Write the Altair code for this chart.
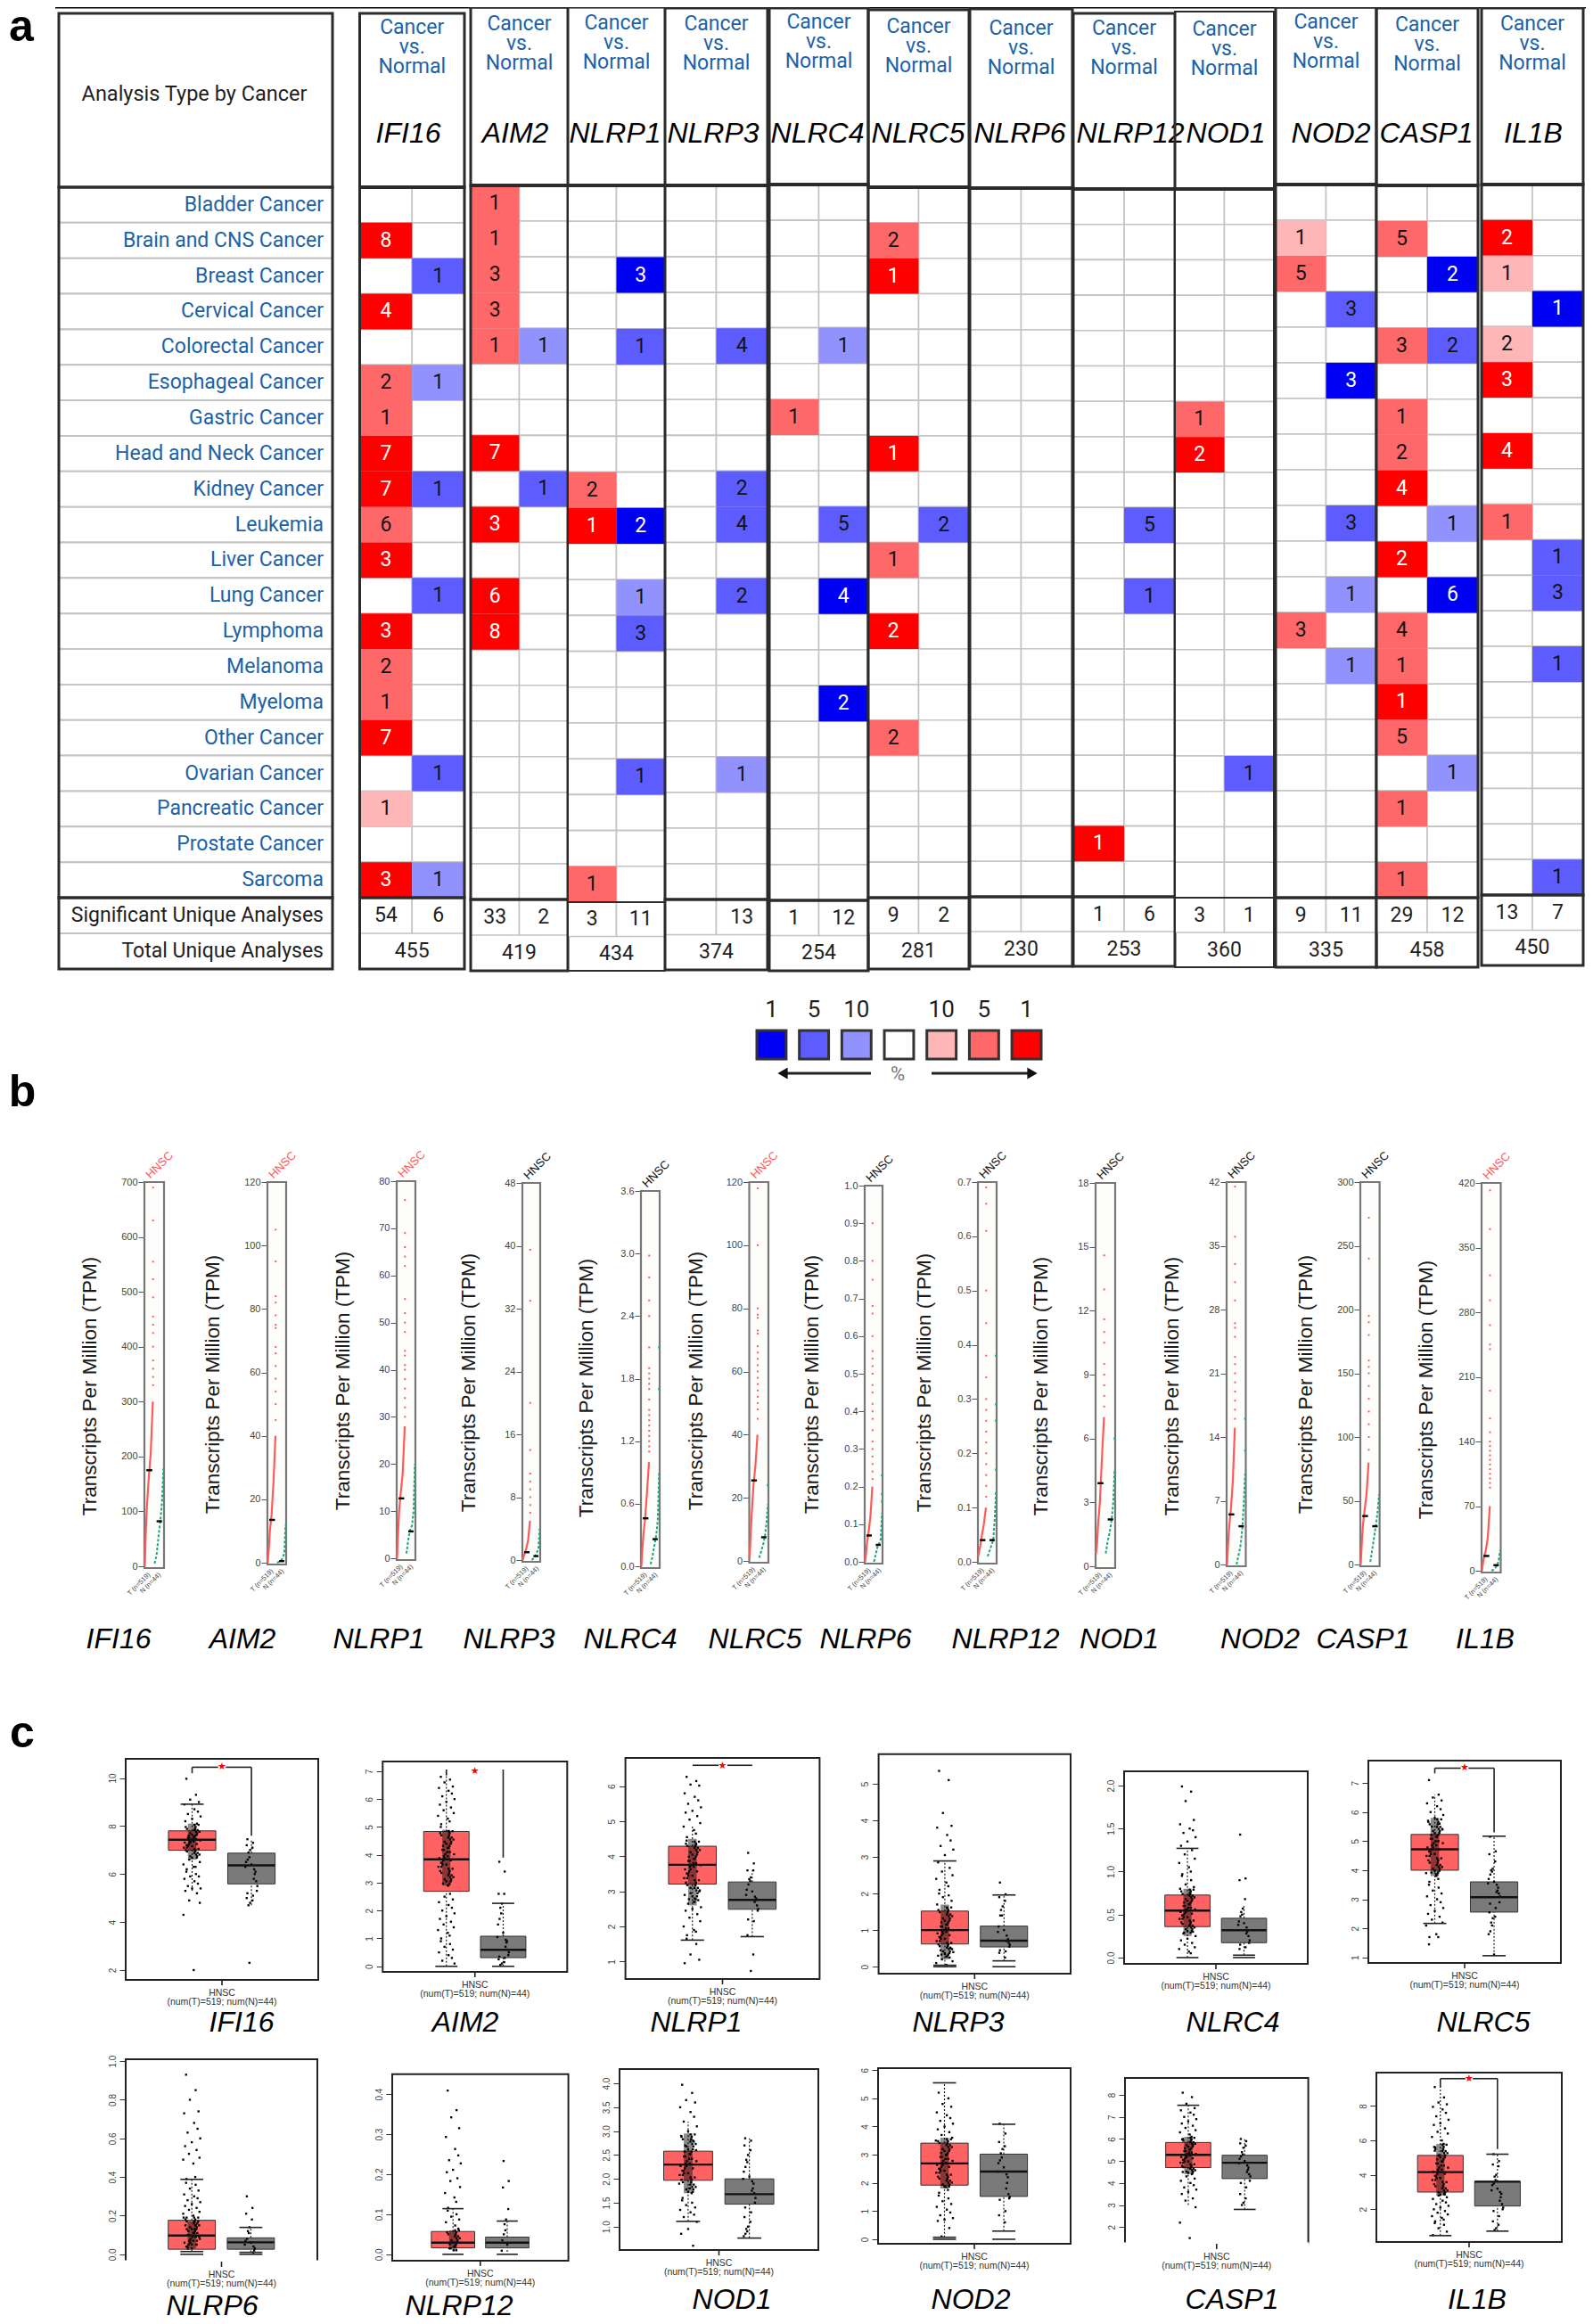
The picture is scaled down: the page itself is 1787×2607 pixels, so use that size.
import altair as alt
import pandas as pd

GENES = ["IFI16", "AIM2", "NLRP1", "NLRP3", "NLRC4", "NLRC5", "NLRP6", "NLRP12", "NOD1", "NOD2", "CASP1", "IL1B"]
CANCERS = ["Bladder Cancer", "Brain and CNS Cancer", "Breast Cancer", "Cervical Cancer", "Colorectal Cancer",
           "Esophageal Cancer", "Gastric Cancer", "Head and Neck Cancer", "Kidney Cancer", "Leukemia", "Liver Cancer",
           "Lung Cancer", "Lymphoma", "Melanoma", "Myeloma", "Other Cancer", "Ovarian Cancer", "Pancreatic Cancer",
           "Prostate Cancer", "Sarcoma"]

# (cancer index, number of analyses, top-percent level)
UP = {
    "IFI16": [(1, 8, 1), (3, 4, 1), (5, 2, 5), (6, 1, 5), (7, 7, 1), (8, 7, 1), (9, 6, 5), (10, 3, 1), (12, 3, 1), (13, 2, 5), (14, 1, 5), (15, 7, 1), (17, 1, 10), (19, 3, 1)],
    "AIM2": [(0, 1, 5), (1, 1, 5), (2, 3, 5), (3, 3, 5), (4, 1, 5), (7, 7, 1), (9, 3, 1), (11, 6, 1), (12, 8, 1)],
    "NLRP1": [(8, 2, 5), (9, 1, 1), (19, 1, 5)],
    "NLRP3": [],
    "NLRC4": [(6, 1, 5)],
    "NLRC5": [(1, 2, 5), (2, 1, 1), (7, 1, 1), (10, 1, 5), (12, 2, 1), (15, 2, 5)],
    "NLRP6": [],
    "NLRP12": [(18, 1, 1)],
    "NOD1": [(6, 1, 5), (7, 2, 1)],
    "NOD2": [(1, 1, 10), (2, 5, 5), (12, 3, 5)],
    "CASP1": [(1, 5, 5), (4, 3, 5), (6, 1, 5), (7, 2, 5), (8, 4, 1), (10, 2, 1), (12, 4, 5), (13, 1, 5), (14, 1, 1), (15, 5, 5), (17, 1, 5), (19, 1, 5)],
    "IL1B": [(1, 2, 1), (2, 1, 10), (4, 2, 10), (5, 3, 1), (7, 4, 1), (9, 1, 5)],
}
DOWN = {
    "IFI16": [(2, 1, 5), (5, 1, 10), (8, 1, 5), (11, 1, 5), (16, 1, 5), (19, 1, 10)],
    "AIM2": [(4, 1, 10), (8, 1, 5)],
    "NLRP1": [(2, 3, 1), (4, 1, 5), (9, 2, 1), (11, 1, 10), (12, 3, 5), (16, 1, 5)],
    "NLRP3": [(4, 4, 5), (8, 2, 5), (9, 4, 5), (11, 2, 5), (16, 1, 10)],
    "NLRC4": [(4, 1, 10), (9, 5, 5), (11, 4, 1), (14, 2, 1)],
    "NLRC5": [(9, 2, 5)],
    "NLRP6": [],
    "NLRP12": [(9, 5, 5), (11, 1, 5)],
    "NOD1": [(16, 1, 5)],
    "NOD2": [(3, 3, 5), (5, 3, 1), (9, 3, 5), (11, 1, 10), (13, 1, 10)],
    "CASP1": [(2, 2, 1), (4, 2, 5), (9, 1, 10), (11, 6, 1), (16, 1, 10)],
    "IL1B": [(3, 1, 1), (10, 1, 5), (11, 3, 5), (13, 1, 5), (19, 1, 5)],
}
SIG_UP = ["54", "33", "3", "", "1", "9", "", "1", "3", "9", "29", "13"]
SIG_DOWN = ["6", "2", "11", "13", "12", "2", "", "6", "1", "11", "12", "7"]
TOTALS = ["455", "419", "434", "374", "254", "281", "230", "253", "360", "335", "458", "450"]
LEGEND_KEYS = ["b1", "b5", "b10", "w", "r10", "r5", "r1"]
LEGEND_TEXT = ["1", "5", "10", "", "10", "5", "1"]
UP_COL = {1: "#ff0000", 5: "#ff6868", 10: "#ffb6b6"}
DOWN_COL = {1: "#0000f5", 5: "#5c5cff", 10: "#9292ff"}
LEGEND_COL = ["#0000f5", "#5c5cff", "#9292ff", "#ffffff", "#ffb6b6", "#ff6868", "#ff0000"]

# ---- layout of panel a (page pixels): x0, x1, header top, rows top, rows bottom, table bottom, first header line, gene label x
A_LAYOUT = {
    "IFI16": (403.5, 521, 15, 210, 1007, 1087, 31, 458),
    "AIM2": (528, 637, 8, 208, 1009, 1089, 27, 578),
    "NLRP1": (637, 746, 8, 208, 1012, 1089, 26, 690),
    "NLRP3": (746, 861, 9, 208, 1009, 1088, 27, 800),
    "NLRC4": (863, 974, 9, 207, 1010, 1089, 25, 917),
    "NLRC5": (974, 1087, 11, 210, 1007, 1087, 30, 1030),
    "NLRP6": (1088, 1203, 10, 211, 1006, 1084, 32, 1144),
    "NLRP12": (1204, 1318, 15, 212, 1006, 1084, 32, 1268),
    "NOD1": (1318, 1429, 13, 212, 1007, 1085, 33, 1375),
    "NOD2": (1431, 1544, 8, 207, 1007, 1085, 25, 1493),
    "CASP1": (1544, 1658, 9, 208, 1007, 1085, 28, 1600),
    "IL1B": (1662, 1776, 9, 207, 1004, 1083, 27, 1720),
}

# ---- panel b: strip charts. ymax and ticks, medians, curve values read at fixed column positions, sparse upper values
T_COLS = [0.02, 0.07, 0.13, 0.22, 0.32, 0.43]
N_COLS = [0.52, 0.62, 0.72, 0.82, 0.9, 0.97]
B = {
    "IFI16": dict(box=(162, 184, 1326, 1759), y0=1757, ymax=700, ticks=[0, 100, 200, 300, 400, 500, 600, 700], red=True, lx=101, ly=1555, gx=133,
                  T=[0, 60, 110, 160, 205, 300], tail=[330, 345, 360, 375, 400, 425, 440, 455, 490, 523, 555, 630, 690],
                  N=[5, 20, 55, 85, 120, 178], ntail=[], med=(175, 82)),
    "AIM2": dict(box=(300, 321, 1326, 1755), y0=1753, ymax=120, ticks=[0, 20, 40, 60, 80, 100, 120], red=True, lx=239, ly=1553, gx=272,
                 T=[0, 4, 10, 15, 25, 40], tail=[45, 50, 54, 58, 62, 66, 68, 74, 75, 78, 82, 84, 95, 105],
                 N=[0, 0.3, 0.7, 1.5, 3, 12], ntail=[], med=(13.5, 0.5)),
    "NLRP1": dict(box=(445, 466, 1325, 1750), y0=1748, ymax=80, ticks=[0, 10, 20, 30, 40, 50, 60, 70, 80], red=True, lx=385, ly=1549, gx=425,
                  T=[0, 5, 10, 14, 18, 28], tail=[30, 32, 34, 36, 38, 40, 41, 43, 44, 48, 50, 52, 55, 62, 64, 66, 69, 76],
                  N=[1, 4, 6, 7, 10, 20], ntail=[], med=(12.7, 5.7)),
    "NLRP3": dict(box=(586, 606, 1327, 1752), y0=1750, ymax=48, ticks=[0, 8, 16, 24, 32, 40, 48], red=False, lx=526, ly=1551, gx=571,
                  T=[0, 0.4, 0.8, 1.5, 2.5, 5], tail=[6, 7, 8, 9, 10, 11, 14, 20, 33, 39.5],
                  N=[0, 0.2, 0.5, 1, 1.5, 4], ntail=[], med=(1, 0.5)),
    "NLRC4": dict(box=(719, 740, 1336, 1759), y0=1757, ymax=3.6, ticks=[0, 0.6, 1.2, 1.8, 2.4, 3, 3.6], red=False, lx=658, ly=1557, gx=707,
                  T=[0, 0.15, 0.3, 0.45, 0.7, 1.0], tail=[1.1, 1.15, 1.2, 1.25, 1.3, 1.35, 1.4, 1.45, 1.5, 1.6, 1.7, 1.75, 1.8, 1.85, 1.9, 2.1, 2.4, 2.55, 2.77, 2.98],
                  N=[0.02, 0.1, 0.2, 0.3, 0.45, 0.9], ntail=[1.7, 2.1], med=(0.46, 0.26)),
    "NLRC5": dict(box=(840.5, 862, 1326, 1753), y0=1751, ymax=120, ticks=[0, 20, 40, 60, 80, 100, 120], red=True, lx=781, ly=1549, gx=847,
                  T=[1, 8, 15, 24, 30, 40], tail=[45, 48, 50, 52, 54, 56, 58, 60, 62, 64, 66, 68, 72, 73, 77, 78, 80, 100, 118],
                  N=[1, 3, 5, 8, 12, 18], ntail=[24], med=(25.5, 7.5)),
    "NLRP6": dict(box=(970, 990, 1330, 1754), y0=1752, ymax=1, ticks=[0, 0.1, 0.2, 0.3, 0.4, 0.5, 0.6, 0.7, 0.8, 0.9, 1], red=False, lx=911, ly=1553, gx=971,
                  T=[0, 0.02, 0.05, 0.08, 0.12, 0.2], tail=[0.22, 0.24, 0.26, 0.28, 0.3, 0.32, 0.35, 0.38, 0.4, 0.42, 0.45, 0.47, 0.5, 0.52, 0.54, 0.56, 0.6, 0.66, 0.68, 0.75, 0.8, 0.9],
                  N=[0, 0.02, 0.04, 0.05, 0.06, 0.13], ntail=[0.16, 0.18, 0.23], med=(0.07, 0.045)),
    "NLRP12": dict(box=(1097, 1118, 1326, 1754), y0=1752, ymax=0.7, ticks=[0, 0.1, 0.2, 0.3, 0.4, 0.5, 0.6, 0.7], red=False, lx=1037, ly=1551, gx=1128,
                   T=[0.01, 0.02, 0.03, 0.05, 0.07, 0.1], tail=[0.12, 0.14, 0.16, 0.18, 0.2, 0.22, 0.24, 0.26, 0.28, 0.3, 0.34, 0.38, 0.44, 0.5, 0.61, 0.66, 0.69],
                   N=[0.01, 0.02, 0.03, 0.04, 0.08, 0.13], ntail=[0.17, 0.26, 0.29, 0.38], med=(0.04, 0.04)),
    "NOD1": dict(box=(1229, 1251, 1327, 1759), y0=1757, ymax=18, ticks=[0, 3, 6, 9, 12, 15, 18], red=False, lx=1168, ly=1555, gx=1255.5,
                 T=[0.6, 1, 2, 3, 5, 7], tail=[7.5, 8, 8.5, 9, 9.5, 10.5, 11, 11.6, 13, 14.6],
                 N=[0.6, 1.2, 1.6, 2.2, 3, 4.5], ntail=[6], med=(3.9, 2.2)),
    "NOD2": dict(box=(1376, 1397.5, 1326, 1757), y0=1755, ymax=42, ticks=[0, 7, 14, 21, 28, 35, 42], red=False, lx=1314.5, ly=1555, gx=1413.5,
                 T=[0, 2, 4, 6, 9, 15], tail=[16, 17, 18, 19, 20, 21, 22, 22.8, 25, 26, 26.5, 29, 31, 33, 36, 41.5],
                 N=[0, 1, 2, 4, 7, 10], ntail=[12.5, 16], med=(5.5, 4.2)),
    "CASP1": dict(box=(1526, 1547.6, 1326, 1757), y0=1755, ymax=300, ticks=[0, 50, 100, 150, 200, 250, 300], red=False, lx=1465, ly=1553, gx=1529,
                  T=[0, 15, 30, 42, 55, 80], tail=[90, 100, 110, 120, 130, 140, 150, 155, 160, 180, 190, 195, 240, 272],
                  N=[2, 12, 22, 32, 42, 55], ntail=[], med=(38, 30)),
    "IL1B": dict(box=(1662, 1683.5, 1327, 1764), y0=1762, ymax=420, ticks=[0, 70, 140, 210, 280, 350, 420], red=True, lx=1600, ly=1559, gx=1666,
                 T=[0, 8, 15, 22, 35, 70], tail=[90, 95, 100, 105, 110, 115, 120, 125, 130, 135, 140, 150, 165, 195, 240, 245, 266, 293, 320, 370, 412],
                 N=[0, 1, 3, 6, 12, 22], ntail=[], med=(16, 6)),
}
B_GENE_Y = 1839

# ---- panel c: box plots. box=frame, dom=value at frame bottom/top, stats=(q1, median, q3)
C = {
    "IFI16": dict(box=(141, 357, 1973, 2221), dom=(1.59, 10.8), ticks=[2, 4, 6, 8, 10], fmt="d", T=(6.99, 7.43, 7.8), N=(5.59, 6.36, 6.87),
                  Tw=(5.3, 8.91), Nw=(4.7, 7.4), Tc=[8.91], Nc=[], br=(10.45, 10.2, 7.6), core=(6.6, 8.1), gx=271, gy=2269,
                  Td=[9.97, 9.3, 9.1, 9.0, 8.9, 8.7, 8.6, 8.5, 8.4, 8.3, 8.2, 8.1, 6.6, 6.5, 6.4, 6.3, 6.3, 6.2, 6.1, 6.0, 5.9, 5.9, 5.8, 5.7, 5.6, 5.5, 5.4, 5.4, 5.3, 5.2, 4.9, 4.8, 4.3, 2.0],
                  Tm=[8.05, 7.96, 7.88, 7.83, 7.76, 7.7, 7.64, 7.6, 7.55, 7.51, 7.46, 7.4, 7.36, 7.31, 7.25, 7.2, 7.16, 7.1, 7.05, 7.0, 6.94, 6.88, 6.81, 6.74, 6.68],
                  Nd=[7.45, 7.3, 7.2, 7.1, 7.0, 6.9, 6.7, 6.6, 6.5, 6.4, 6.3, 6.2, 6.1, 6.0, 5.8, 5.7, 5.5, 5.3, 5.2, 5.1, 5.0, 4.9, 4.8, 4.7, 2.3]),
    "AIM2": dict(box=(429.3, 636.3, 1976, 2212), dom=(-0.2, 7.35), ticks=[0, 1, 2, 3, 4, 5, 6, 7], fmt="d", T=(2.69, 3.84, 4.84), N=(0.31, 0.59, 1.08),
                 Tw=(0, 7.06), Nw=(0, 2.26), Tc=[0], Nc=[0, 2.26], br=None, seg=[(0.345, 0.345, 6.85, 7.06), (0.653, 0.653, 3.9, 7.06)], star=(0.5, 7.0), core=(2.9, 4.9), gx=522, gy=2269,
                 Td=[6.8, 6.7, 6.6, 6.45, 6.4, 6.3, 6.2, 6.1, 6.0, 5.9, 5.8, 5.7, 5.6, 5.5, 5.4, 5.3, 5.2, 5.1, 5.0, 2.6, 2.5, 2.4, 2.3, 2.2, 2.1, 2.0, 1.9, 1.8, 1.7, 1.6, 1.5, 1.4, 1.3, 1.2, 1.1, 1.0, 0.9, 0.8, 0.7, 0.6, 0.5, 0.4, 0.3, 0.2, 0.1],
                 Tm=[4.85, 4.78, 4.7, 4.62, 4.55, 4.47, 4.4, 4.32, 4.25, 4.18, 4.1, 4.02, 3.95, 3.88, 3.8, 3.72, 3.65, 3.57, 3.5, 3.42, 3.35, 3.27, 3.2, 3.12, 3.05, 2.97, 2.9],
                 Nd=[3.75, 3.4, 2.6, 2.6, 2.25, 2.1, 1.9, 1.7, 1.5, 1.2, 1.05, 0.95, 0.9, 0.85, 0.7, 0.6, 0.5, 0.4, 0.35, 0.3, 0.25, 0.15, 0.1, 0.05]),
    "NLRP1": dict(box=(701.6, 919.4, 1972, 2220), dom=(0.5, 6.81), ticks=[1, 2, 3, 4, 5, 6], fmt="d", T=(3.21, 3.76, 4.29), N=(2.49, 2.76, 3.27),
                  Tw=(1.61, 4.9), Nw=(1.71, 3.6), Tc=[1.61], Nc=[1.71], br=None, seg=[(0.346, 0.48, 6.6, 6.6), (0.525, 0.653, 6.6, 6.6)], star=(0.5, 6.58), core=(2.6, 4.5), gx=781, gy=2269,
                  Td=[6.27, 6.15, 6.05, 6.02, 5.8, 5.7, 5.6, 5.5, 5.4, 5.3, 5.25, 5.15, 5.05, 4.95, 4.85, 4.75, 4.65, 4.55, 4.45, 4.35, 3.1, 3.0, 2.9, 2.8, 2.75, 2.65, 2.55, 2.5, 2.45, 2.35, 2.25, 2.15, 2.0, 1.9, 1.85, 1.75, 1.65, 1.5, 1.2, 1.05, 0.95],
                  Tm=[4.42, 4.36, 4.3, 4.24, 4.18, 4.12, 4.05, 3.99, 3.93, 3.87, 3.81, 3.75, 3.7, 3.63, 3.57, 3.51, 3.45, 3.38, 3.32, 3.25, 3.18, 3.1, 3.03, 2.95, 2.86, 2.78, 2.7],
                  Nd=[4.1, 3.8, 3.6, 3.6, 3.4, 3.35, 3.3, 3.2, 3.05, 3.0, 2.9, 2.85, 2.8, 2.75, 2.7, 2.6, 2.5, 2.45, 2.2, 2.15, 1.75, 1.2, 0.73]),
    "NLRP3": dict(box=(985.6, 1201, 1967.7, 2214), dom=(-0.19, 5.81), ticks=[0, 1, 2, 3, 4, 5], fmt="d", T=(0.62, 1.0, 1.52), N=(0.54, 0.71, 1.11),
                  Tw=(0.04, 2.89), Nw=(0.16, 1.96), Tc=[0, 0.04, 2.89], Nc=[0, 0.16, 1.96], br=None, core=(0.2, 1.7), gx=1075, gy=2269,
                  Td=[5.35, 5.1, 4.2, 3.85, 3.8, 3.6, 3.45, 3.3, 3.2, 3.05, 2.85, 2.7, 2.6, 2.5, 2.4, 2.3, 2.2, 2.1, 2.0, 1.95, 1.9, 1.8, 1.7, 1.6, 0.5, 0.45, 0.4, 0.35, 0.3, 0.25, 0.2, 0.15, 0.1, 0.05],
                  Tm=[1.62, 1.55, 1.49, 1.43, 1.38, 1.32, 1.26, 1.21, 1.15, 1.1, 1.05, 1.0, 0.95, 0.91, 0.86, 0.81, 0.76, 0.7, 0.65, 0.61, 0.56, 0.52, 0.48, 0.42, 0.37, 0.33, 0.28],
                  Nd=[2.3, 1.98, 1.9, 1.8, 1.65, 1.55, 1.4, 1.4, 1.1, 1.0, 0.95, 0.85, 0.75, 0.72, 0.7, 0.65, 0.6, 0.55, 0.45, 0.42, 0.38, 0.25]),
    "NLRC4": dict(box=(1261, 1467, 1987, 2203), dom=(-0.073, 2.166), ticks=[0, 0.5, 1, 1.5, 2], fmt=".1f", T=(0.36, 0.547, 0.727), N=(0.173, 0.318, 0.457),
                  Tw=(0.0, 1.27), Nw=(0.028, 0.6), Tc=[0, 1.27], Nc=[0, 0.028], br=None, core=(0.25, 0.8), gx=1383, gy=2269,
                  Td=[1.99, 1.93, 1.82, 1.6, 1.55, 1.5, 1.48, 1.45, 1.4, 1.35, 1.3, 1.25, 1.2, 1.15, 1.1, 1.05, 1.0, 0.97, 0.95, 0.9, 0.85, 0.82, 0.8, 0.75, 0.3, 0.28, 0.25, 0.22, 0.2, 0.17, 0.15, 0.12, 0.1, 0.07, 0.05],
                  Tm=[0.79, 0.77, 0.74, 0.72, 0.7, 0.68, 0.66, 0.64, 0.62, 0.6, 0.58, 0.56, 0.55, 0.53, 0.51, 0.49, 0.47, 0.45, 0.43, 0.41, 0.39, 0.37, 0.35, 0.33, 0.31, 0.29],
                  Nd=[1.43, 0.92, 0.9, 0.68, 0.57, 0.53, 0.5, 0.48, 0.42, 0.4, 0.38, 0.35, 0.32, 0.3, 0.28, 0.25, 0.2, 0.17, 0.15, 0.12, 0.1]),
    "NLRC5": dict(box=(1535, 1751, 1975, 2202), dom=(0.81, 7.77), ticks=[1, 2, 3, 4, 5, 6, 7], fmt="d", T=(4.0, 4.72, 5.23), N=(2.56, 3.07, 3.6),
                  Tw=(2.17, 6.6), Nw=(1.06, 5.17), Tc=[2.17], Nc=[1.06, 5.17], br=(7.51, 7.33, 5.3), core=(3.8, 5.8), gx=1664, gy=2269,
                  Td=[7.1, 6.6, 6.5, 6.4, 6.3, 6.2, 6.1, 6.0, 5.9, 5.8, 5.7, 5.6, 5.5, 5.4, 3.9, 3.8, 3.7, 3.6, 3.5, 3.4, 3.3, 3.2, 3.1, 3.0, 2.9, 2.8, 2.7, 2.6, 2.5, 2.4, 2.3, 2.2, 2.1, 1.8, 1.7, 1.7, 1.45],
                  Tm=[5.75, 5.66, 5.58, 5.49, 5.42, 5.35, 5.28, 5.21, 5.15, 5.08, 5.0, 4.93, 4.86, 4.78, 4.71, 4.64, 4.56, 4.49, 4.41, 4.34, 4.26, 4.18, 4.11, 4.05, 3.98, 3.92, 3.86],
                  Nd=[5.15, 4.65, 4.55, 4.3, 4.05, 4.0, 3.95, 3.85, 3.7, 3.6, 3.55, 3.5, 3.4, 3.3, 3.25, 3.2, 3.1, 2.9, 2.85, 2.7, 2.55, 2.4, 2.35, 2.2, 2.1, 1.9, 1.8, 1.1]),
    "NLRP6": dict(box=(141, 356, 2310, 2537), dom=(-0.038, 1.01), ticks=[0, 0.2, 0.4, 0.6, 0.8, 1], fmt=".1f", T=(0.026, 0.097, 0.176), N=(0.026, 0.062, 0.085),
                  Tw=(0.014, 0.388), Nw=(0.01, 0.139), Tc=[0, 0.014, 0.388], Nc=[0, 0.01, 0.139], br=None, core=(0.03, 0.17), gx=238, gy=2587, open=True,
                  Td=[0.93, 0.85, 0.8, 0.74, 0.73, 0.68, 0.65, 0.63, 0.6, 0.58, 0.56, 0.54, 0.52, 0.5, 0.49, 0.47, 0.4, 0.39, 0.37, 0.36, 0.34, 0.33, 0.31, 0.3, 0.29, 0.28, 0.27, 0.26, 0.25, 0.24, 0.23, 0.22, 0.21, 0.2],
                  Tm=[0.19, 0.18, 0.17, 0.16, 0.15, 0.14, 0.13, 0.12, 0.11, 0.1, 0.09, 0.08, 0.07, 0.06, 0.05, 0.04, 0.03, 0.19, 0.17, 0.15, 0.13, 0.11, 0.09, 0.07, 0.05],
                  Nd=[0.3, 0.24, 0.21, 0.18, 0.14, 0.12, 0.11, 0.08, 0.07, 0.06, 0.05, 0.04, 0.03, 0.02, 0.01]),
    "NLRP12": dict(box=(440, 637.6, 2326.7, 2536), dom=(-0.016, 0.45), ticks=[0, 0.1, 0.2, 0.3, 0.4], fmt=".1f", T=(0.016, 0.029, 0.057), N=(0.016, 0.029, 0.043),
                   Tw=(0.008, 0.114), Nw=(0.006, 0.083), Tc=[0, 0.114], Nc=[0, 0.083], br=None, core=(0.012, 0.06), gx=515, gy=2587,
                   Td=[0.409, 0.36, 0.342, 0.315, 0.293, 0.263, 0.247, 0.235, 0.227, 0.211, 0.205, 0.19, 0.183, 0.168, 0.153, 0.142, 0.131, 0.116, 0.109, 0.1, 0.094, 0.087, 0.08, 0.072, 0.064],
                   Tm=[0.06, 0.055, 0.05, 0.045, 0.04, 0.035, 0.03, 0.025, 0.02, 0.015, 0.01],
                   Nd=[0.233, 0.183, 0.167, 0.113, 0.087, 0.075, 0.06, 0.05, 0.035, 0.024, 0.009]),
    "NOD1": dict(box=(695, 918, 2321, 2524), dom=(0.51, 4.3), ticks=[1, 1.5, 2, 2.5, 3, 3.5, 4], fmt=".1f", T=(1.97, 2.3, 2.58), N=(1.47, 1.68, 2.0),
                 Tw=(1.11, 3.2), Nw=(0.76, 2.85), Tc=[1.11], Nc=[0.76], br=None, core=(1.7, 2.95), gx=821, gy=2580,
                 Td=[3.97, 3.8, 3.65, 3.6, 3.5, 3.4, 3.3, 3.2, 3.1, 3.0, 2.9, 2.8, 2.7, 2.6, 1.9, 1.8, 1.7, 1.6, 1.55, 1.5, 1.45, 1.4, 1.35, 1.3, 1.25, 1.2, 1.1, 0.95, 0.85, 0.6],
                 Tm=[2.93, 2.88, 2.83, 2.78, 2.73, 2.68, 2.62, 2.57, 2.52, 2.47, 2.42, 2.37, 2.32, 2.27, 2.22, 2.17, 2.12, 2.08, 2.03, 1.98, 1.93, 1.88, 1.83, 1.78, 1.73],
                 Nd=[2.85, 2.8, 2.7, 2.6, 2.5, 2.4, 2.35, 2.25, 2.15, 2.05, 2.0, 1.95, 1.9, 1.8, 1.75, 1.7, 1.6, 1.5, 1.4, 1.3, 1.2, 1.1, 1.0, 0.95, 0.9, 0.85, 0.8]),
    "NOD2": dict(box=(985, 1201, 2320, 2517), dom=(-0.16, 6.07), ticks=[0, 1, 2, 3, 4, 5, 6], fmt="d", T=(1.92, 2.69, 3.41), N=(1.52, 2.4, 3.02),
                 Tw=(0.07, 5.55), Nw=(0.29, 4.08), Tc=[0, 0.07, 5.55], Nc=[0, 0.29, 4.08], br=None, core=(1.8, 3.6), gx=1089, gy=2580,
                 Td=[5.2, 5.0, 4.8, 4.7, 4.5, 4.4, 4.3, 4.2, 4.1, 4.0, 3.9, 3.8, 3.7, 3.6, 3.5, 1.85, 1.75, 1.65, 1.55, 1.45, 1.35, 1.25, 1.15, 1.05, 0.95, 0.85, 0.75, 0.7, 0.65, 0.4, 0.1],
                 Tm=[3.55, 3.48, 3.41, 3.34, 3.27, 3.2, 3.13, 3.06, 2.99, 2.92, 2.85, 2.78, 2.71, 2.64, 2.57, 2.5, 2.43, 2.36, 2.29, 2.22, 2.15, 2.08, 2.01, 1.94, 1.87],
                 Nd=[4.1, 3.75, 3.45, 3.3, 3.2, 3.05, 2.9, 2.8, 2.7, 2.55, 2.4, 2.3, 2.2, 2.0, 1.8, 1.6, 1.5, 1.45, 1.4, 1.0, 0.85, 0.6]),
    "CASP1": dict(box=(1262, 1467.6, 2331, 2517), dom=(1.24, 8.77), ticks=[2, 3, 4, 5, 6, 7, 8], fmt="d", T=(4.7, 5.28, 5.84), N=(4.2, 4.92, 5.26),
                  Tw=(3.0, 7.53), Nw=(2.8, 6.0), Tc=[7.53], Nc=[2.8], br=None, core=(4.4, 6.1), gx=1382, gy=2580, open=True,
                  Td=[8.1, 7.9, 7.6, 7.4, 7.3, 7.2, 7.1, 7.0, 6.9, 6.8, 6.7, 6.6, 6.5, 6.4, 6.3, 6.2, 6.1, 6.0, 4.5, 4.4, 4.3, 4.2, 4.1, 4.0, 3.9, 3.8, 3.7, 3.6, 3.5, 3.3, 3.2, 2.9, 2.2, 1.5],
                  Tm=[6.05, 5.98, 5.92, 5.85, 5.78, 5.72, 5.65, 5.58, 5.52, 5.45, 5.38, 5.32, 5.25, 5.18, 5.12, 5.05, 4.98, 4.92, 4.85, 4.78, 4.72, 4.65, 4.58, 4.52, 4.46],
                  Nd=[6.0, 5.9, 5.8, 5.7, 5.6, 5.4, 5.3, 5.2, 5.1, 5.0, 4.9, 4.8, 4.7, 4.6, 4.5, 4.4, 4.3, 4.1, 4.0, 3.8, 3.5, 3.3, 3.1, 3.0]),
    "IL1B": dict(box=(1544, 1752, 2325, 2515), dom=(0.1, 9.94), ticks=[2, 4, 6, 8], fmt="d", T=(3.0, 4.16, 5.13), N=(2.19, 3.6, 3.62),
                 Tw=(0.47, 9.2), Nw=(0.73, 5.2), Tc=[0.47], Nc=[0.73, 5.2], br=(9.59, 9.1, 5.5), core=(2.8, 5.8), gx=1657, gy=2580,
                 Td=[9.1, 8.5, 8.2, 8.1, 7.95, 7.8, 7.6, 7.4, 7.2, 7.0, 6.9, 6.7, 6.5, 6.4, 6.2, 6.0, 5.8, 5.6, 5.4, 2.9, 2.8, 2.7, 2.6, 2.5, 2.4, 2.3, 2.2, 2.1, 2.0, 1.9, 1.8, 1.7, 1.6, 1.5, 1.4, 1.3, 1.2, 1.1, 0.9, 0.7, 0.5],
                 Tm=[5.75, 5.62, 5.5, 5.38, 5.26, 5.14, 5.02, 4.9, 4.78, 4.66, 4.54, 4.42, 4.3, 4.18, 4.06, 3.94, 3.82, 3.7, 3.58, 3.46, 3.34, 3.22, 3.1, 2.98, 2.86],
                 Nd=[5.2, 4.8, 4.6, 4.5, 4.0, 3.9, 3.7, 3.5, 3.4, 3.2, 3.1, 3.0, 2.9, 2.7, 2.5, 2.3, 2.1, 2.0, 1.9, 1.6, 1.3, 1.1, 0.9, 0.8]),
}
JITTER = [-0.03, 0.02, -0.01, 0.035, -0.04, 0.012, 0.03, -0.022, 0.044, 0.0, -0.035, 0.025, -0.015, 0.04, -0.045, 0.008, 0.018, -0.028]

BLUE = "#1c62a8"
DARK = "#1f1f1f"
UI = "Roboto"
UI_SIZE = 23
ARIAL = "Liberation Sans"
ONE = pd.DataFrame({"a": [0]})
L = []


def px(v):
    return v - 8


def text(s, x, y, size=21, color=DARK, font=UI, align="center", angle=0, style="normal", weight="normal", base="middle"):
    L.append(alt.Chart(ONE).mark_text(text=s, fontSize=size, color=color, font=font, align=align, angle=angle,
                                      fontStyle=style, fontWeight=weight, baseline=base)
             .encode(x=alt.value(px(x)), y=alt.value(px(y))))


def box(x0, y0, x1, y1, stroke="#2b2b2b", w=3, fill=None):
    kw = dict(stroke=stroke, strokeWidth=w)
    kw["fill"] = fill if fill else "transparent"
    L.append(alt.Chart(ONE).mark_rect(**kw).encode(x=alt.value(px(x0)), x2=alt.value(px(x1)),
                                                   y=alt.value(px(y0)), y2=alt.value(px(y1))))


def hline(x0, x1, y, color="#000000", w=3):
    L.append(alt.Chart(ONE).mark_rule(color=color, strokeWidth=w).encode(
        x=alt.value(px(x0)), x2=alt.value(px(x1)), y=alt.value(px(y))))


# ======================= panel a =======================
text("a", 24, 31, size=50, color="#000000", font=ARIAL, weight="bold")
text("b", 25, 1226, size=50, color="#000000", font=ARIAL, weight="bold")
text("c", 25, 1945, size=50, color="#000000", font=ARIAL, weight="bold")
hline(62, 1780, 8, w=3)

# label column
label_x1 = 363
rows = pd.DataFrame({"cancer": CANCERS})
ysc = alt.Scale(type="band", domain=CANCERS, range=[px(210), px(1007)], paddingInner=0, paddingOuter=0)
L.append(alt.Chart(rows).mark_rect(fill="white", stroke="#c4c4c4", strokeWidth=2).encode(
    x=alt.value(px(66)), x2=alt.value(px(373)), y=alt.Y("cancer:N", scale=ysc, axis=None)))
L.append(alt.Chart(rows).mark_text(font=UI, fontSize=UI_SIZE, color=BLUE, align="right").encode(
    x=alt.value(px(label_x1)), y=alt.Y("cancer:N", scale=ysc, axis=None), text="cancer:N"))
box(66, 1047, 373, 1087, stroke="#c4c4c4", w=2)
text("Significant Unique Analyses", label_x1, 1027, size=UI_SIZE, align="right")
text("Total Unique Analyses", label_x1, 1067, size=UI_SIZE, align="right")
text("Analysis Type by Cancer", 218, 106, size=UI_SIZE + 0.5)
box(66, 15, 373, 210)
box(66, 210, 373, 1007)
box(66, 1007, 373, 1087)

SIDES = ["up", "down"]
for i, g in enumerate(GENES):
    x0, x1, ht, rt, rb, tb, hy, gx = A_LAYOUT[g]
    xs = alt.Scale(type="band", domain=SIDES, range=[px(x0), px(x1)], paddingInner=0, paddingOuter=0)
    ys = alt.Scale(type="band", domain=CANCERS, range=[px(rt), px(rb)], paddingInner=0, paddingOuter=0)
    X = alt.X("side:N", scale=xs, axis=None)
    Y = alt.Y("cancer:N", scale=ys, axis=None)
    grid = pd.DataFrame([{"side": s, "cancer": c} for s in SIDES for c in CANCERS])
    L.append(alt.Chart(grid).mark_rect(fill="white", stroke="#c4c4c4", strokeWidth=1.6).encode(x=X, y=Y))
    cells = [{"side": "up", "cancer": CANCERS[c], "n": str(n), "fill": UP_COL[lv],
              "tc": "white" if lv == 1 else "#141414"} for c, n, lv in UP[g]]
    cells += [{"side": "down", "cancer": CANCERS[c], "n": str(n), "fill": DOWN_COL[lv],
               "tc": "white" if lv == 1 else "#141414"} for c, n, lv in DOWN[g]]
    if cells:
        cd = pd.DataFrame(cells)
        L.append(alt.Chart(cd).mark_rect().encode(x=X, y=Y, fill=alt.Fill("fill:N", scale=None, legend=None)))
        L.append(alt.Chart(cd).mark_text(font=UI, fontSize=UI_SIZE).encode(
            x=X, y=Y, text="n:N", color=alt.Color("tc:N", scale=None, legend=None)))
    # significant / total rows
    sb = (rb + tb) / 2
    sx = alt.X("side:N", scale=xs, axis=None)
    sd = pd.DataFrame({"side": SIDES, "n": [SIG_UP[i], SIG_DOWN[i]]})
    L.append(alt.Chart(sd).mark_rect(fill="white", stroke="#c4c4c4", strokeWidth=1.6).encode(
        x=sx, y=alt.value(px(rb)), y2=alt.value(px(sb))))
    L.append(alt.Chart(sd).mark_text(font=UI, fontSize=UI_SIZE, color=DARK).encode(
        x=sx, y=alt.value(px((rb + sb) / 2)), text="n:N"))
    text(TOTALS[i], (x0 + x1) / 2, (sb + tb) / 2, size=UI_SIZE)
    # header
    mid = (x0 + x1) / 2
    text("Cancer", mid, hy, size=UI_SIZE, color=BLUE)
    text("vs.", mid, hy + 22, size=UI_SIZE, color=BLUE)
    text("Normal", mid, hy + 44, size=UI_SIZE, color=BLUE)
    text(g, gx, 150, size=32, color="#000000", font=ARIAL, style="italic")
    sw = 2 if g in ("NLRP1", "NOD1") else 3
    box(x0, ht, x1, rt, w=sw)
    box(x0, rt, x1, rb, w=sw)
    box(x0, rb, x1, tb, w=sw)
    hline(x0, x1, rt, color="#2b2b2b", w=4)

# legend
leg = pd.DataFrame({"k": LEGEND_KEYS, "t": LEGEND_TEXT, "c": LEGEND_COL})
lx = alt.Scale(type="band", domain=LEGEND_KEYS, range=[px(849), px(1168)], paddingInner=0.31, paddingOuter=0)
L.append(alt.Chart(leg).mark_rect(stroke="#333333", strokeWidth=3).encode(
    x=alt.X("k:N", scale=lx, axis=None), y=alt.value(px(1156)), y2=alt.value(px(1188)),
    fill=alt.Fill("c:N", scale=None, legend=None)))
L.append(alt.Chart(leg).mark_text(font=UI, fontSize=26, color=DARK).encode(
    x=alt.X("k:N", scale=lx, axis=None), y=alt.value(px(1133)), text="t:N"))
hline(878, 977, 1204, color="#222222", w=3)
hline(1045, 1155, 1204, color="#222222", w=3)
for sh, xp in (("triangle-left", 878), ("triangle-right", 1158)):
    L.append(alt.Chart(ONE).mark_point(shape=sh, filled=True, size=170, color="#111111", opacity=1).encode(
        x=alt.value(px(xp)), y=alt.value(px(1204))))
text("%", 1007, 1205, size=22, color="#777777")

# ======================= panel b =======================
for g in GENES:
    b = B[g]
    x0, x1, y0, y1 = b["box"]
    box(x0, y0, x1, y1, stroke="#777777", w=2.2, fill="#fdfdfb")
    xs = alt.Scale(domain=[0, 1], range=[px(x0), px(x1)])
    ys = alt.Scale(domain=[0, b["ymax"]], range=[px(b["y0"]), px(y0)])
    fmt = ".1f" if b["ymax"] in (1, 0.7, 3.6) else "d"
    tickvals = b["ticks"]
    Yax = alt.Axis(orient="left", values=tickvals, domain=False, grid=False, title=None, tickSize=7, tickColor="#555555",
                   labelFontSize=11, labelColor="#444444", labelFont=ARIAL, labelPadding=1,
                   offset=-px(x0), format=fmt)
    Yc = alt.Y("v:Q", scale=ys, axis=Yax)
    Yn = alt.Y("v:Q", scale=ys, axis=None)
    Xn = alt.X("x:Q", scale=xs, axis=None)
    red = "#ff5a5a"
    green = "#1ca583"
    td = pd.DataFrame({"x": T_COLS, "v": b["T"]})
    L.append(alt.Chart(td).mark_line(color=red, strokeWidth=2.2).encode(x=Xn, y=Yc))
    tl = pd.DataFrame({"x": [0.44] * len(b["tail"]), "v": b["tail"]})
    L.append(alt.Chart(tl).mark_square(color=red, size=4, opacity=1).encode(x=Xn, y=Yn))
    nd = pd.DataFrame({"x": N_COLS, "v": b["N"]})
    L.append(alt.Chart(nd).mark_line(color=green, strokeWidth=2, strokeDash=[3, 2]).encode(x=Xn, y=Yn))
    if b["ntail"]:
        nt = pd.DataFrame({"x": [0.97] * len(b["ntail"]), "v": b["ntail"]})
        L.append(alt.Chart(nt).mark_square(color=green, size=5, opacity=1).encode(x=Xn, y=Yn))
    md = pd.DataFrame({"x": [0.1, 0.62], "x2": [0.4, 0.9], "v": list(b["med"])})
    L.append(alt.Chart(md).mark_rule(color="#000000", strokeWidth=2.4).encode(x=Xn, x2="x2:Q", y=Yn))
    hc = "#ff5a5a" if b["red"] else "#111111"
    text("HNSC", x0 + 17, y0 - 19, size=13, color=hc, font=ARIAL, angle=315)
    text("T (n=519)", x0 - 6, y1 + 18, size=7.5, color="#444444", font=ARIAL, angle=315)
    text("N (n=44)", x0 + 7, y1 + 17, size=7.5, color="#444444", font=ARIAL, angle=315)
    text("Transcripts Per Million (TPM)", b["lx"], b["ly"], size=22.5, color="#1a1a1a", font=ARIAL, angle=270)
    text(g, b["gx"], B_GENE_Y, size=32, color="#000000", font=ARIAL, style="italic")

# ======================= panel c =======================
TX, NX, HW = 0.345, 0.653, 0.123
for g in GENES:
    c = C[g]
    x0, x1, y0, y1 = c["box"]
    box(x0, y0, x1, y1, stroke="#222222", w=2, fill="white")
    if c.get("open"):
        hline(x0 - 1, x1 + 1, y1, color="white", w=3)
    xs = alt.Scale(domain=[0, 1], range=[px(x0), px(x1)])
    ys = alt.Scale(domain=list(c["dom"]), range=[px(y1), px(y0)])
    Yax = alt.Axis(orient="left", values=c["ticks"], domain=False, grid=False, title=None, tickSize=7, tickColor="#333333",
                   labelFontSize=10, labelColor="#444444", labelFont=ARIAL, labelAngle=270, labelAlign="center",
                   labelBaseline="bottom", labelPadding=3, offset=-px(x0), format=c["fmt"])
    Yc = alt.Y("y0:Q", scale=ys, axis=Yax)
    Yn = alt.Y("y0:Q", scale=ys, axis=None)
    Xn = alt.X("x0:Q", scale=xs, axis=None)
    # boxes
    bx = pd.DataFrame([
        {"x0": TX - HW, "x1": TX + HW, "y0": c["T"][0], "y1": c["T"][2], "f": "#ff6262"},
        {"x0": NX - HW, "x1": NX + HW, "y0": c["N"][0], "y1": c["N"][2], "f": "#7a7a7a"},
    ])
    L.append(alt.Chart(bx).mark_rect(stroke="#333333", strokeWidth=1).encode(
        x=Xn, x2="x1:Q", y=Yc, y2="y1:Q", fill=alt.Fill("f:N", scale=None, legend=None)))
    # whiskers (dotted)
    wh = pd.DataFrame([
        {"x0": TX, "y0": c["Tw"][0], "y1": c["T"][0]}, {"x0": TX, "y0": c["T"][2], "y1": c["Tw"][1]},
        {"x0": NX, "y0": c["Nw"][0], "y1": c["N"][0]}, {"x0": NX, "y0": c["N"][2], "y1": c["Nw"][1]},
    ])
    L.append(alt.Chart(wh).mark_rule(color="#222222", strokeWidth=1.2, strokeDash=[2, 2]).encode(x=Xn, y=Yn, y2="y1:Q"))
    # dense part of the tumour cloud
    cr = pd.DataFrame([{"x0": TX - 0.022, "x1": TX + 0.022, "y0": c["core"][0], "y1": c["core"][1]}])
    L.append(alt.Chart(cr).mark_rect(color="#000000", opacity=0.45).encode(x=Xn, x2="x1:Q", y=Yn, y2="y1:Q"))
    # dots
    dots = [{"x0": TX + JITTER[k % len(JITTER)], "y0": v} for k, v in enumerate(c["Td"])]
    dots += [{"x0": TX + JITTER[(k * 7 + 3) % len(JITTER)] * 0.95, "y0": v} for k, v in enumerate(c["Tm"])]
    dots += [{"x0": TX + JITTER[(k * 5 + 1) % len(JITTER)] * 0.6, "y0": v} for k, v in enumerate(c["Tm"])]
    dots += [{"x0": NX + JITTER[(k * 5) % len(JITTER)] * 0.7, "y0": v} for k, v in enumerate(c["Nd"])]
    L.append(alt.Chart(pd.DataFrame(dots)).mark_square(color="#000000", size=5.5, opacity=1).encode(x=Xn, y=Yn))
    # median + caps
    seg = [{"x0": TX - HW, "x1": TX + HW, "y0": c["T"][1]}, {"x0": NX - HW, "x1": NX + HW, "y0": c["N"][1]}]
    L.append(alt.Chart(pd.DataFrame(seg)).mark_rule(color="#111111", strokeWidth=2.4).encode(x=Xn, x2="x1:Q", y=Yn))
    caps = [{"x0": TX - 0.06, "x1": TX + 0.06, "y0": v} for v in c["Tc"]]
    caps += [{"x0": NX - 0.06, "x1": NX + 0.06, "y0": v} for v in c["Nc"]]
    if caps:
        L.append(alt.Chart(pd.DataFrame(caps)).mark_rule(color="#222222", strokeWidth=1.6).encode(x=Xn, x2="x1:Q", y=Yn))
    # significance marks
    marks = []
    star = c.get("star")
    if c.get("br"):
        by, ly, ry = c["br"]
        marks = [(TX, 0.48, by, by), (0.52, NX, by, by), (TX, TX, ly, by), (NX, NX, ry, by)]
        star = (0.5, by)
    elif c.get("seg"):
        marks = c["seg"]
    if marks:
        md = pd.DataFrame(marks, columns=["x0", "x1", "y0", "y1"])
        L.append(alt.Chart(md).mark_rule(color="#222222", strokeWidth=1.6).encode(x=Xn, x2="x1:Q", y=Yn, y2="y1:Q"))
    if star:
        sd = pd.DataFrame([{"x0": star[0], "y0": star[1], "t": "\u2605"}])
        L.append(alt.Chart(sd).mark_text(color="#ff0000", fontSize=11, font="DejaVu Sans").encode(x=Xn, y=Yn, text="t:N"))
    # x tick and caption
    mid = (x0 + x1) / 2
    L.append(alt.Chart(ONE).mark_rule(color="#222222", strokeWidth=1.6).encode(
        x=alt.value(px(mid)), y=alt.value(px(y1)), y2=alt.value(px(y1 + 6))))
    text("HNSC", mid, y1 + 15, size=10.5, color="#333333", font=ARIAL)
    text("(num(T)=519; num(N)=44)", mid, y1 + 25, size=10.5, color="#333333", font=ARIAL)
    text(g, c["gx"], c["gy"], size=32, color="#000000", font=ARIAL, style="italic")

chart = alt.layer(*L).resolve_scale(x="independent", y="independent", fill="independent", color="independent") \
    .resolve_axis(x="independent", y="independent").properties(
    width=1771, height=2591, padding=0, background="white",
    autosize=alt.AutoSizeParams(type="none")).configure_view(stroke=None)

chart.save("out.html", embed_options={"renderer": "svg", "actions": False})
